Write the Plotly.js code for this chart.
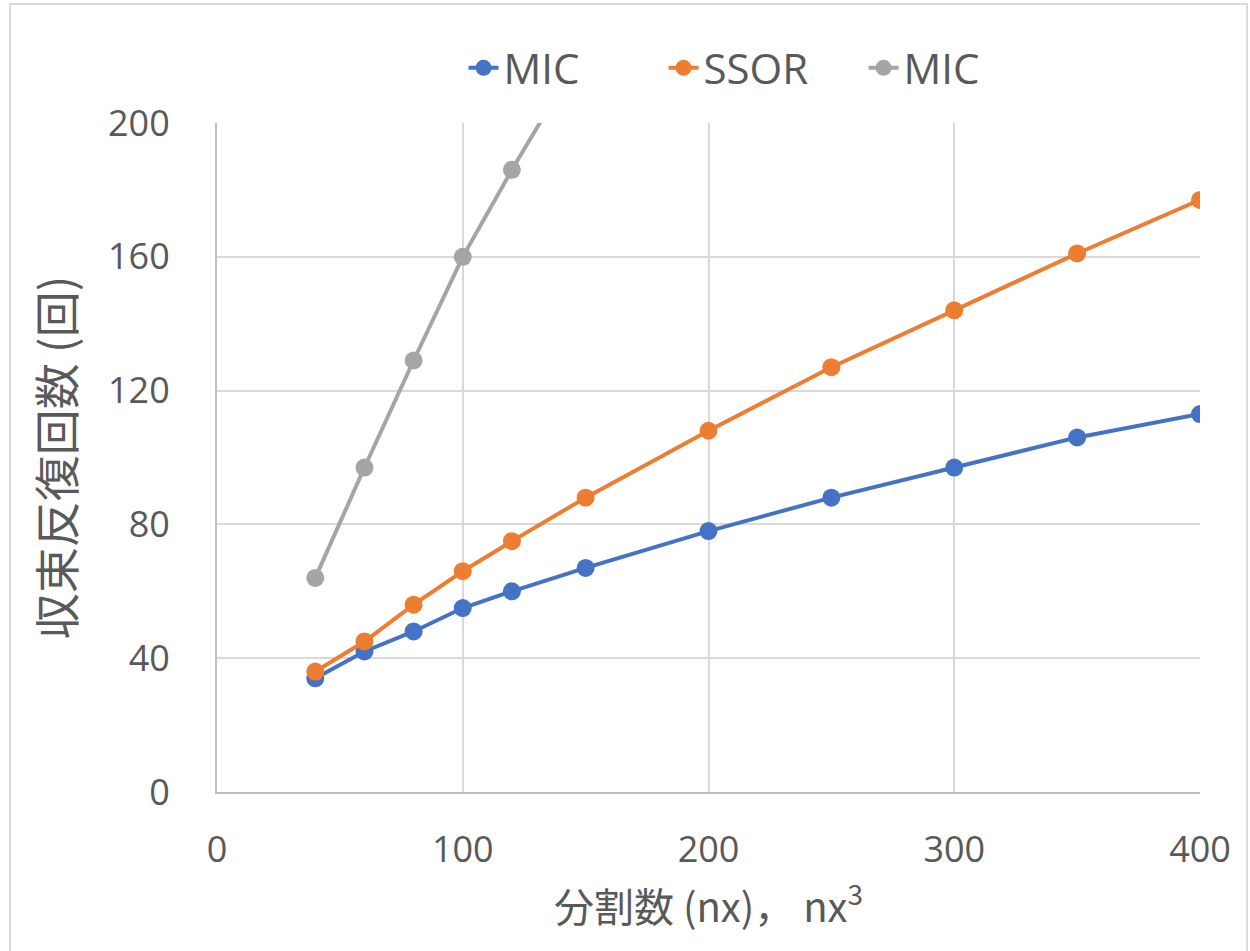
<!DOCTYPE html>
<html>
<head>
<meta charset="utf-8">
<script src="https://cdn.plot.ly/plotly-3.0.1.min.js"></script>
<style>html,body{margin:0;padding:0;background:#fff;}#chart{width:1250px;height:951px;}</style>
</head>
<body>
<div id="chart"></div>
<script>
const nxMIC = [40, 60, 80, 100, 120, 150, 200, 250, 300, 350, 400];
const iterMIC = [34, 42, 48, 55, 60, 67, 78, 88, 97, 106, 113];
const nxSSOR = [40, 60, 80, 100, 120, 150, 200, 250, 300, 350, 400];
const iterSSOR = [36, 45, 56, 66, 75, 88, 108, 127, 144, 161, 177];
const nxMIC3 = [40, 60, 80, 100, 120, 150];
const iterMIC3 = [64, 97, 129, 160, 186, 223];
const seriesNames = ["MIC", "SSOR", "MIC"];
const colors = ["#4472C4", "#ED7D31", "#A5A5A5"];
const xTicks = [0, 100, 200, 300, 400];
const yTicks = [0, 40, 80, 120, 160, 200];

const fontFam = "'Open Sans', 'Noto Sans CJK JP', sans-serif";
const cjkFam = "'Noto Sans CJK JP', 'Open Sans', sans-serif";

function tr(x, y, i) {
  return {
    x: x, y: y, name: seriesNames[i], type: "scatter", mode: "lines+markers",
    line: {color: colors[i], width: 4},
    marker: {color: colors[i], size: 18},
    cliponaxis: true
  };
}
const data = [tr(nxMIC, iterMIC, 0), tr(nxSSOR, iterSSOR, 1), tr(nxMIC3, iterMIC3, 2)];

const L = 217, R = 50, T = 123, B = 159, W = 1250, H = 951;
const pw = W - L - R, ph = H - T - B;
const layout = {
  width: W, height: H,
  margin: {l: L, r: R, t: T, b: B, pad: 0},
  paper_bgcolor: "#fff", plot_bgcolor: "#fff",
  showlegend: true,
  legend: {
    orientation: "h", x: 0.556, xanchor: "center", y: (792 - 68) / ph, yanchor: "middle",
    font: {family: fontFam, size: 42, color: "#595959"},
    entrywidth: 155, entrywidthmode: "pixels", tracegroupgap: 0
  },
  xaxis: {
    range: [0, 400], tickvals: xTicks, ticktext: xTicks.map(String),
    showgrid: true, gridcolor: "#D9D9D9", gridwidth: 2,
    showline: true, linecolor: "#BFBFBF", linewidth: 2,
    zeroline: false, ticks: "", ticklabelstandoff: 25,
    tickfont: {family: fontFam, size: 36, color: "#595959"},
    title: {text: "分割数 (nx)， nx<sup>3</sup>", standoff: 22,
      font: {family: cjkFam, size: 40, color: "#595959"}}
  },
  yaxis: {
    range: [0, 200], tickvals: yTicks, ticktext: yTicks.map(String),
    showgrid: true, gridcolor: "#D9D9D9", gridwidth: 2,
    showline: true, linecolor: "#BFBFBF", linewidth: 2,
    zeroline: false, ticks: "", ticklabelstandoff: 38,
    tickfont: {family: fontFam, size: 36, color: "#595959"},
    title: {text: "収束反復回数 (回)", standoff: 19,
      font: {family: cjkFam, size: 46, color: "#595959"}}
  },
  shapes: [{
    type: "rect", xref: "paper", yref: "paper",
    x0: (10 - L) / pw, x1: (1247 - L) / pw,
    y0: (792 - 960) / ph, y1: (792 - 4) / ph,
    line: {color: "#D9D9D9", width: 2}, fillcolor: "rgba(0,0,0,0)", layer: "below"
  }]
};
Plotly.newPlot("chart", data, layout, {displayModeBar: false, staticPlot: true});
</script>
</body>
</html>
